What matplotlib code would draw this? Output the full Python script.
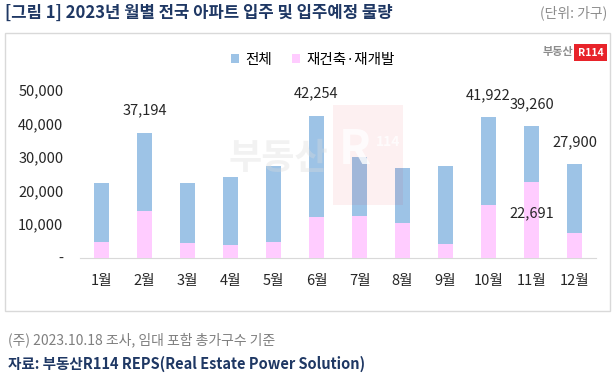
import matplotlib as mpl
import matplotlib.pyplot as plt
import numpy as np
from matplotlib.patches import Rectangle


mpl.rcParams['font.family'] = ['Noto Sans CJK KR', 'DejaVu Sans']
mpl.rcParams['axes.unicode_minus'] = False

OUT_PNG = 'out.png'

MONTHS = ['1월', '2월', '3월', '4월', '5월', '6월', '7월', '8월', '9월', '10월', '11월', '12월']
TOTAL = [22400, 37194, 22300, 24100, 27400, 42254, 29900, 26800, 27300, 41922, 39260, 27900]
REBUILD = [4800, 13900, 4500, 3800, 4800, 12200, 12500, 10200, 4100, 15700, 22691, 7400]
TOTAL_LABELED = ['2월', '6월', '10월', '11월', '12월']
REBUILD_LABELED = ['11월']
Y_TICKS = [0, 10000, 20000, 30000, 40000, 50000]

BLUE = '#9dc3e6'
PINK = '#ffccff'
NAVY = '#1f3864'
GRAY = '#7f7f7f'


def main() -> None:
    fig = plt.figure(figsize=(6.16, 3.85), dpi=100)

    # 차트 외곽 박스
    fig.patches.append(Rectangle((5 / 616, 1 - 311 / 385), 605 / 616, 278 / 385,
                                 transform=fig.transFigure, fill=False,
                                 edgecolor='#d9d9d9', linewidth=1.0))

    # 워터마크
    fig.patches.append(Rectangle((333 / 616, 1 - 205 / 385), 70 / 616, 100 / 385,
                                 transform=fig.transFigure, facecolor='#e60012',
                                 alpha=0.06, edgecolor='none', zorder=0))
    fig.text(355 / 616, 1 - 150 / 385, 'R', fontsize=34, fontweight='bold',
             color='white', ha='center', va='center', alpha=0.8, zorder=1)
    fig.text(388 / 616, 1 - 142 / 385, '114', fontsize=10, fontweight='bold',
             color='white', ha='center', va='center', alpha=0.8, zorder=1)
    fig.text(278 / 616, 1 - 158 / 385, '부동산', fontsize=26, fontweight='bold',
             color='#dcdcdc', alpha=0.35, ha='center', va='center', zorder=0)

    ax = fig.add_axes([80 / 616, 1 - 257.7 / 385, 516 / 616, 167.7 / 385])
    ax.set_facecolor('none')
    x = np.arange(len(MONTHS))
    w = 0.34
    ax.bar(x, TOTAL, width=w, color=BLUE, label='전체', zorder=2)
    ax.bar(x, REBUILD, width=w, color=PINK, label='재건축·재개발', zorder=3)

    for i, m in enumerate(MONTHS):
        if m in TOTAL_LABELED:
            ax.annotate(f'{TOTAL[i]:,}', (x[i], TOTAL[i]), xytext=(0, 16),
                        textcoords='offset points', ha='center', va='center',
                        fontsize=10.5, color='#262626')
        if m in REBUILD_LABELED:
            ax.annotate(f'{REBUILD[i]:,}', (x[i], REBUILD[i]), xytext=(0, -23),
                        textcoords='offset points', ha='center', va='center',
                        fontsize=10.5, color='#262626', zorder=5)

    ax.set_xlim(-0.5, len(MONTHS) - 0.5)
    ax.set_ylim(0, 50000)
    ax.set_xticks(x)
    ax.set_xticklabels(MONTHS, fontsize=10.5, color='#262626')
    ax.set_yticks(Y_TICKS)
    ax.set_yticklabels(['-' if v == 0 else f'{v:,}' for v in Y_TICKS],
                       fontsize=10.5, color='#262626')
    ax.tick_params(axis='both', length=0)
    ax.tick_params(axis='x', pad=12)
    ax.tick_params(axis='y', pad=12)
    for s in ['top', 'right', 'left']:
        ax.spines[s].set_visible(False)
    ax.spines['bottom'].set_color('#d9d9d9')

    fig.legend(loc='center', bbox_to_anchor=(313 / 616, 1 - 60 / 385), ncol=2,
               frameon=False, fontsize=10.5, handlelength=0.55, handleheight=0.55,
               handletextpad=0.4, columnspacing=1.4)

    # 로고
    fig.text(573 / 616, 1 - 52 / 385, '부동산', fontsize=8, fontweight='bold',
             color='#8c8c8c', ha='right', va='center')
    fig.text(590.5 / 616, 1 - 52.5 / 385, 'R114', fontsize=7.5, fontweight='bold',
             color='white', ha='center', va='center',
             bbox=dict(boxstyle='square,pad=0.35', facecolor='#e8232a', edgecolor='none'))

    fig.text(5 / 616, 1 - 13 / 385, '[그림 1] 2023년 월별 전국 아파트 입주 및 입주예정 물량',
             fontsize=12, fontweight='bold', color=NAVY, ha='left', va='center')
    fig.text(607 / 616, 1 - 13 / 385, '(단위: 가구)', fontsize=10, color='#8c8c8c',
             ha='right', va='center')
    fig.text(8 / 616, 1 - 340 / 385, '(주) 2023.10.18 조사, 임대 포함 총가구수 기준',
             fontsize=10, color=GRAY, ha='left', va='center')
    fig.text(8 / 616, 1 - 364 / 385, '자료: 부동산R114 REPS(Real Estate Power Solution)',
             fontsize=10.5, fontweight='bold', color=NAVY, ha='left', va='center')

    fig.savefig(OUT_PNG, dpi=100)
    plt.close(fig)


if __name__ == '__main__':
    main()
